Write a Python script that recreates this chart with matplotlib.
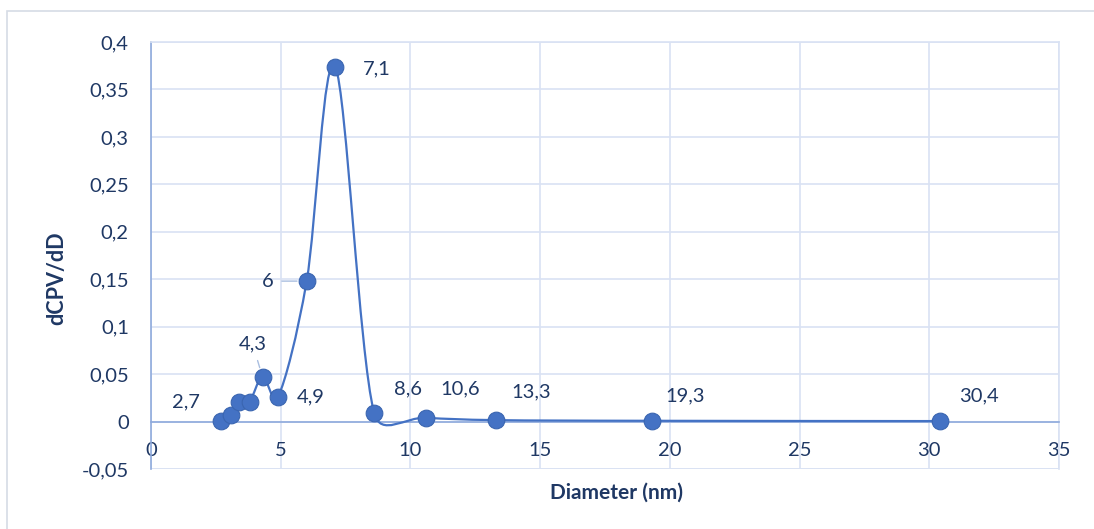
import numpy as np
import matplotlib
matplotlib.use("Agg")
import matplotlib.pyplot as plt
from matplotlib.path import Path
import matplotlib.patches as mpatches

# pore size distribution values
diameter = [2.7, 3.1, 3.4, 3.8, 4.3, 4.9, 6.0, 7.1, 8.6, 10.6, 13.3, 19.3, 30.4]
dcpv = [0.001, 0.007, 0.021, 0.021, 0.047, 0.026, 0.148, 0.374, 0.009, 0.004, 0.0015, 0.0008, 0.0005]
labelled = ["2,7", None, None, None, "4,3", "4,9", "6", "7,1", "8,6", "10,6", "13,3", "19,3", "30,4"]
x_ticks = [0, 5, 10, 15, 20, 25, 30, 35]
y_ticks = [-0.05, 0, 0.05, 0.1, 0.15, 0.2, 0.25, 0.3, 0.35, 0.4]

navy = "#1F3864"
blue = "#4472C4"
grid_col = "#D9E2F3"
axis_col = "#8FAADC"
fs = 14.5

plt.rcParams["font.family"] = ["Lato", "DejaVu Sans"]

fig = plt.figure(figsize=(10.94, 5.29), dpi=100)
ax = fig.add_axes([151 / 1094, 60 / 529, 908 / 1094, 427 / 529])
ax.set_xlim(0, 35)
ax.set_ylim(-0.05, 0.4)

# outer chart border
fig.patches.append(mpatches.Rectangle((7 / 1094, -0.05), 1.2, 1 - 11 / 529 + 0.05,
                                      transform=fig.transFigure, fill=False,
                                      edgecolor="#D6DCE5", linewidth=1.2))

# Excel-style smoothed line: bezier handles of 1/6, capped at half the segment
sx, sy = 908 / 35, 427 / 0.45
pts = np.column_stack([diameter, dcpv])
scr = pts * [sx, sy]
dist = lambda u, v: np.hypot(*(scr[u] - scr[v]))
verts = [pts[0]]
codes = [Path.MOVETO]
n = len(pts)
for i in range(n - 1):
    a, b = max(i - 1, 0), min(i + 2, n - 1)
    d12 = dist(i, i + 1)
    d02 = dist(a, i + 1)
    d13 = dist(i, b)
    f1 = 1 / 6 if d02 / 6 < d12 / 2 else d12 / d02 / 2
    f2 = 1 / 6 if d13 / 6 < d12 / 2 else d12 / d13 / 2
    c1 = pts[i] + (pts[i + 1] - pts[a]) * f1
    c2 = pts[i + 1] - (pts[b] - pts[i]) * f2
    verts += [c1, c2, pts[i + 1]]
    codes += [Path.CURVE4] * 3
ax.add_patch(mpatches.PathPatch(Path(verts, codes), fill=False, edgecolor=blue,
                                linewidth=1.6, zorder=3))

ax.plot(diameter, dcpv, linestyle="none", marker="o", markersize=12,
        markerfacecolor=blue, markeredgecolor="#3A65B0", markeredgewidth=0.8, zorder=4)

# data labels: offsets in pixels
offsets = {
    "2,7": (-35, 19), "4,3": (-10, 33), "4,9": (33, 0), "6": (-39, 0),
    "7,1": (42, -2), "8,6": (34, 24), "10,6": (34, 29), "13,3": (35, 28),
    "19,3": (33, 25), "30,4": (39, 25),
}
for xv, yv, lab in zip(diameter, dcpv, labelled):
    if lab is None:
        continue
    dx, dy = offsets[lab]
    kw = {}
    if lab in ("4,3", "6"):
        kw["arrowprops"] = dict(arrowstyle="-", color="#A9BEE0", lw=1.0,
                                shrinkA=4, shrinkB=7)
    ax.annotate(lab, (xv, yv), xytext=(dx, dy), textcoords="offset pixels",
                ha="center", va="center", fontsize=fs, color=navy, zorder=5, **kw)

ax.set_xticks(x_ticks)
ax.set_yticks(y_ticks)
ax.set_xticklabels([str(v) for v in x_ticks])
ax.set_yticklabels([("%g" % v).replace(".", ",") for v in y_ticks])
ax.tick_params(axis="both", length=0, labelsize=fs, labelcolor=navy)
ax.tick_params(axis="x", pad=15)
ax.tick_params(axis="y", pad=16)

ax.grid(True, color=grid_col, linewidth=1.2)
ax.set_axisbelow(True)
for s in ["top", "right"]:
    ax.spines[s].set_color(grid_col)
    ax.spines[s].set_linewidth(1.2)
ax.spines["left"].set_color(axis_col)
ax.spines["left"].set_linewidth(1.2)
ax.spines["bottom"].set_position(("data", 0))
ax.spines["bottom"].set_color(axis_col)
ax.spines["bottom"].set_linewidth(1.2)
ax.axhline(-0.05, color=grid_col, linewidth=1.2, zorder=0)

fig.text(57 / 1094, 1 - 278 / 529, "dCPV/dD", rotation=90, ha="center", va="center",
         fontsize=15.5, fontweight="bold", color=navy)
fig.text(617 / 1094, 1 - 493 / 529, "Diameter (nm)", ha="center", va="center",
         fontsize=15, fontweight="bold", color=navy)

fig.savefig("out.png", dpi=100)
